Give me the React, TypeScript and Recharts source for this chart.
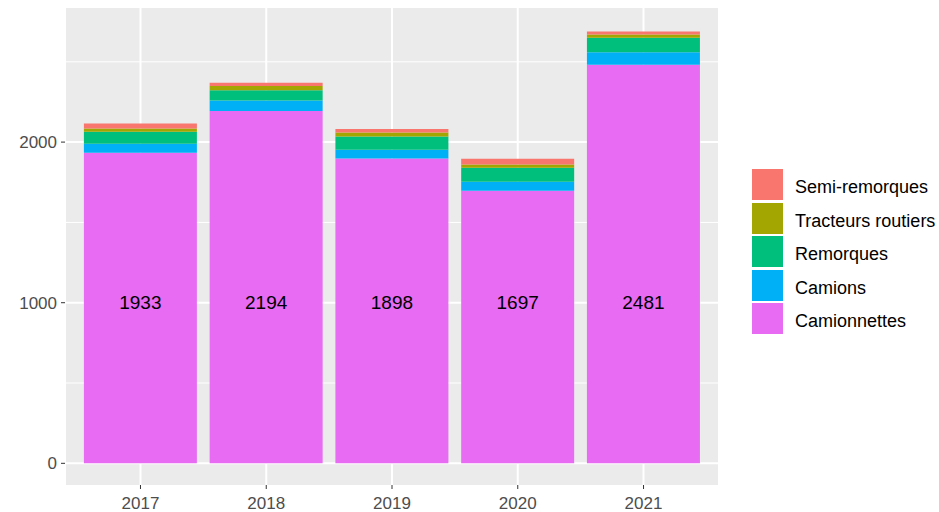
import React from "react";
import { BarChart, Bar, XAxis, YAxis, CartesianGrid, LabelList } from "recharts";

const years = ["2017", "2018", "2019", "2020", "2021"];
const camionnettes = [1933, 2194, 1898, 1697, 2481];
const camions = [56, 65, 54, 56, 79];
const remorques = [75, 64, 83, 87, 89];
const tracteurs = [21, 27, 25, 21, 21];
const semiRemorques = [31, 19, 21, 35, 19];
const yTicks = [0, 1000, 2000];
const minorTicks = [-500, 500, 1500, 2500];
const labelAt = 1000;

const series = [
  { key: "camionnettes", name: "Camionnettes", color: "#E76BF3", values: camionnettes },
  { key: "camions", name: "Camions", color: "#00B0F6", values: camions },
  { key: "remorques", name: "Remorques", color: "#00BF7D", values: remorques },
  { key: "tracteurs", name: "Tracteurs routiers", color: "#A3A500", values: tracteurs },
  { key: "semi", name: "Semi-remorques", color: "#F8766D", values: semiRemorques },
];

const data = years.map((y, i) => {
  const row: any = { year: y };
  series.forEach((s) => (row[s.key] = s.values[i]));
  return row;
});

const FONT = "'Liberation Sans', Arial, sans-serif";

const InnerLabel = (props: any) => {
  const { x, y, width, height, value } = props;
  const cy = y + height - (height * labelAt) / value;
  return (
    <text x={x + width / 2} y={cy} textAnchor="middle" dominantBaseline="central" fontSize={19} fill="#000" fontFamily={FONT}>
      {value}
    </text>
  );
};

export default function App() {
  return (
    <div style={{ position: "absolute", left: 0, top: 0, width: 939, height: 512, background: "#fff" }}>
      <BarChart
        width={939}
        height={512}
        data={data}
        margin={{ top: 8, right: 220, bottom: 0, left: 0 }}
        barCategoryGap="5%"
      >
        <CartesianGrid fill="#EBEBEB" stroke="#FFFFFF" strokeWidth={1} horizontalValues={minorTicks} vertical={false} />
        <CartesianGrid fill="none" stroke="#FFFFFF" strokeWidth={2} horizontalValues={yTicks} />
        <XAxis
          dataKey="year"
          axisLine={false}
          tickSize={4}
          tickMargin={8}
          tickLine={{ stroke: "#333333" }}
          tick={{ fill: "#4D4D4D", fontSize: 17, fontFamily: FONT }}
          padding={{ left: 12.6, right: 12.6 }}
          height={27}
        />
        <YAxis
          domain={[-135, 2835]}
          ticks={yTicks}
          allowDataOverflow
          axisLine={false}
          tickSize={4}
          tickMargin={4}
          tickLine={{ stroke: "#333333" }}
          tick={{ fill: "#4D4D4D", fontSize: 17, fontFamily: FONT }}
          width={65}
        />
        {series.map((s) => (
          <Bar key={s.key} dataKey={s.key} name={s.name} stackId="a" fill={s.color} isAnimationActive={false}>
            {s.key === "camionnettes" && <LabelList dataKey="camionnettes" content={InnerLabel} />}
          </Bar>
        ))}
      </BarChart>
      <div style={{ position: "absolute", left: 751, top: 168, fontFamily: FONT, fontSize: 18, color: "#000" }}>
        {[...series].reverse().map((s) => (
          <div key={s.key} style={{ display: "flex", alignItems: "center", height: 33.5 }}>
            <div style={{ width: 33, height: 33, background: s.color, border: "1px solid #fff", boxSizing: "border-box" }} />
            <span style={{ marginLeft: 11, position: "relative", top: 3 }}>{s.name}</span>
          </div>
        ))}
      </div>
    </div>
  );
}
